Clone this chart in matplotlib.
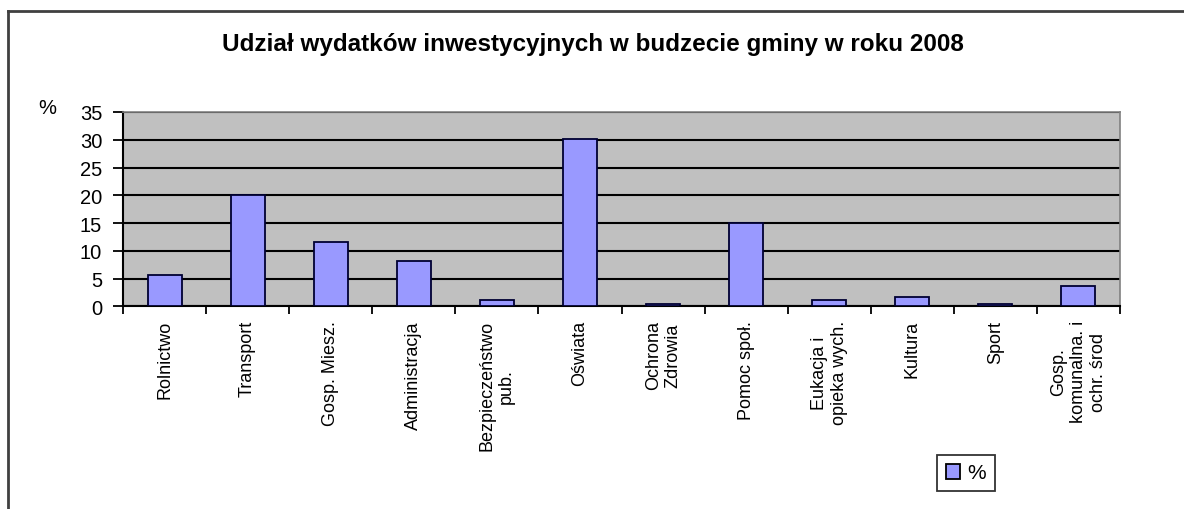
import matplotlib
matplotlib.use("Agg")
import matplotlib.pyplot as plt
from matplotlib.lines import Line2D
from matplotlib.patches import Patch
import numpy as np

plt.rcParams['font.family'] = ['Liberation Sans', 'DejaVu Sans']

categories = ["Rolnictwo", "Transport", "Gosp. Miesz.", "Administracja",
              "Bezpieczeństwo\npub.", "Oświata", "Ochrona\nZdrowia", "Pomoc społ.",
              "Eukacja i\nopieka wych.", "Kultura", "Sport",
              "Gosp.\nkomunalna. i\nochr. środ"]
values = [5.6, 20.0, 11.6, 8.2, 1.1, 30.2, 0.4, 15.0, 1.1, 1.7, 0.4, 3.7]
series_name = "%"
title = "Udział wydatków inwestycyjnych w budzecie gminy w roku 2008"
yticks = [0, 5, 10, 15, 20, 25, 30, 35]

W, H = 1184, 510
fig = plt.figure(figsize=(W / 100, H / 100), dpi=100)
fig.patch.set_facecolor("white")

ax = fig.add_axes([123 / W, 1 - 307.3 / H, (1120 - 123) / W, (307.3 - 113) / H])
ax.set_facecolor("#C0C0C0")

x = np.arange(len(categories))
bars = ax.bar(x, values, width=0.41, color="#9999FF", edgecolor="#000033",
              linewidth=1.3, zorder=3, label=series_name)

ax.set_xlim(-0.5, len(categories) - 0.5)
ax.set_ylim(0, 35)
ax.set_yticks(yticks)
ax.set_yticklabels([str(v) for v in yticks], fontsize=14.5)
ax.yaxis.grid(True, color="black", linewidth=1.5, zorder=1)
ax.set_axisbelow(True)

# category boundary ticks, labels at centres
ax.set_xticks(np.arange(-0.5, len(categories), 1.0))
ax.set_xticklabels([])
ax.set_xticks(x, minor=True)
ax.set_xticklabels(categories, minor=True, rotation=90, fontsize=13,
                   multialignment="center", va="top", linespacing=1.2)
ax.tick_params(axis="x", which="major", length=6, width=1.3, color="black", direction="out")
ax.tick_params(axis="x", which="minor", length=0, pad=10)
ax.tick_params(axis="y", length=7, width=1.3, color="black", pad=8, direction="out")

for s in ["left", "bottom"]:
    ax.spines[s].set_color("black")
    ax.spines[s].set_linewidth(1.5)
for s in ["top", "right"]:
    ax.spines[s].set_color("#808080")
    ax.spines[s].set_linewidth(1.2)

fig.text(593 / W, 1 - 44 / H, title, ha="center", va="center",
         fontsize=17.5, fontweight="bold")
fig.text(47 / W, 1 - 109 / H, "%", ha="center", va="center", fontsize=14.5)

handle = Patch(facecolor="#9999FF", edgecolor="black", linewidth=1.3)
leg = fig.legend([handle], [series_name], loc="center",
                 bbox_to_anchor=(966 / W, 1 - 474 / H), fontsize=15,
                 frameon=True, fancybox=False, edgecolor="black",
                 handlelength=0.7, handleheight=0.7, handletextpad=0.35,
                 borderpad=0.4)
leg.get_frame().set_linewidth(1.3)

# outer chart border (left and top visible)
fig.add_artist(Line2D([8 / W, 8 / W], [0, 1 - 12 / H], transform=fig.transFigure,
                      color="#404040", linewidth=2))
fig.add_artist(Line2D([8 / W, 1], [1 - 12 / H, 1 - 12 / H], transform=fig.transFigure,
                      color="#404040", linewidth=2))

fig.savefig("out.png", dpi=100)
